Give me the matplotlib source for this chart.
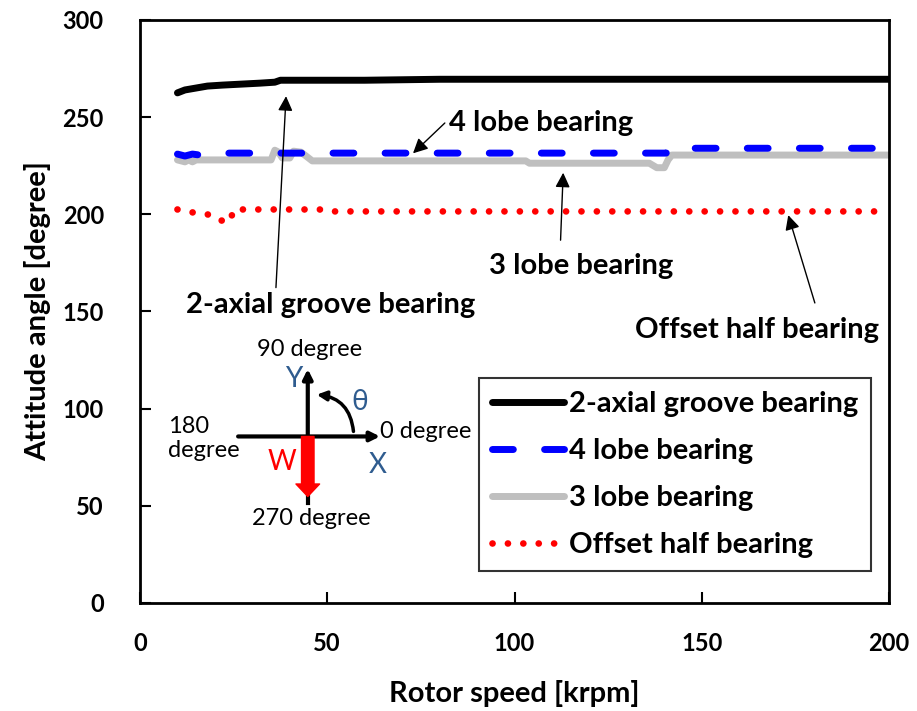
import numpy as np
import matplotlib
matplotlib.use('Agg')
import matplotlib.pyplot as plt
from matplotlib.patches import FancyArrowPatch

plt.rcParams['font.family'] = ['Lato', 'DejaVu Sans']

# ---- data (rotor speed [krpm] / attitude angle [degree])
x_2axial = [10, 12, 15, 18, 22, 27, 32, 36, 37.5, 45, 60, 80, 100, 150, 200]
y_2axial = [262.5, 264, 265, 266, 266.5, 267, 267.5, 268, 269, 269, 269, 269.5, 269.5, 269.5, 269.5]

x_4lobe = [10, 12, 14, 16, 20, 40, 80, 120, 140.5, 141.5, 160, 200]
y_4lobe = [231, 230, 231, 230.5, 231.5, 231.5, 231.5, 231.5, 231.5, 234, 234, 234]

x_3lobe = [10, 12, 13, 14, 15, 16, 20, 30, 35, 36, 37, 38, 40, 41, 43, 45, 46,
           100, 103, 104, 136, 138, 140, 141, 142, 200]
y_3lobe = [228, 227, 228, 227, 228, 228, 228, 228, 228, 233, 232, 229, 229, 232.5, 232, 229, 227.5,
           227.5, 227.5, 226.3, 226.3, 224, 224, 228, 230.5, 230.5]

x_offset = [10, 14, 18, 20, 21, 23, 24, 25, 30, 40, 48, 50, 80, 100, 150, 200]
y_offset = [202.5, 201, 200, 198.5, 197, 196.5, 196, 202.5, 202.5, 202.5, 202.5, 201.5, 201.5, 201.5,
            201.5, 201.5]

labels = ['2-axial groove bearing', '4 lobe bearing', '3 lobe bearing', 'Offset half bearing']

FS = 21

fig = plt.figure(figsize=(9.17, 7.11), dpi=100)
ax = fig.add_axes([140/917, 108/711, 749/917, 583/711])

ax.plot(x_2axial, y_2axial, color='black', lw=5, solid_capstyle='round', label=labels[0])
ax.plot(x_4lobe, y_4lobe, color='#0000FF', lw=5, dashes=(3.0, 4.5), dash_capstyle='round', label=labels[1])
ax.plot(x_3lobe, y_3lobe, color='#BFBFBF', lw=5, solid_capstyle='round', label=labels[2], zorder=1.9)
ax.plot(x_offset, y_offset, color='#FF0000', lw=4.8, dashes=(0.01, 2.3), dash_capstyle='round',
        label=labels[3])

ax.set_xlim(0, 200)
ax.set_ylim(0, 300)
ax.set_xticks([0, 50, 100, 150, 200])
ax.set_yticks([0, 50, 100, 150, 200, 250, 300])
ax.tick_params(direction='in', length=8, width=1.5, labelsize=17)
ax.tick_params(axis='x', pad=21)
ax.tick_params(axis='y', pad=26)
for t in ax.get_xticklabels() + ax.get_yticklabels():
    t.set_fontweight('bold')
for s in ax.spines.values():
    s.set_linewidth(2)

ax.set_xlabel('Rotor speed [krpm]', fontsize=FS, fontweight='bold', labelpad=18)
ax.set_ylabel('Attitude angle [degree]', fontsize=FS, fontweight='bold', labelpad=8)

leg = ax.legend(loc='lower left', bbox_to_anchor=(0.4526, 0.055), fontsize=FS, frameon=True,
                fancybox=False, edgecolor='black', handlelength=2.45, handletextpad=0.17,
                labelspacing=0.72, borderpad=0.45, borderaxespad=0)
leg.get_frame().set_linewidth(1.5)
for t in leg.get_texts():
    t.set_fontweight('bold')

# ---- callouts
ap = dict(arrowstyle='-|>', color='black', lw=1, mutation_scale=22, shrinkA=0, shrinkB=0)
ax.annotate('', xy=(72.9, 231.4), xytext=(81.4, 247), arrowprops=ap)
ax.text(82.5, 247, '4 lobe bearing', fontsize=FS, fontweight='bold', ha='left', va='center')
ax.annotate('', xy=(39.0, 260.8), xytext=(36.3, 162.3), arrowprops=ap)
ax.text(51, 153.5, '2-axial groove bearing', fontsize=FS, fontweight='bold', ha='center', va='center')
ax.annotate('', xy=(113.0, 221.4), xytext=(112.3, 186.7), arrowprops=ap)
ax.text(117.8, 173.6, '3 lobe bearing', fontsize=FS, fontweight='bold', ha='center', va='center')
ax.annotate('', xy=(173.1, 199.6), xytext=(180.2, 154.4), arrowprops=ap)
ax.text(164.8, 140.6, 'Offset half bearing', fontsize=FS, fontweight='bold', ha='center', va='center')

# ---- coordinate sketch
blue = '#2F5C8F'
axp = dict(arrowstyle='-|>', color='black', lw=3, mutation_scale=14, shrinkA=0, shrinkB=0)
ax.annotate('', xy=(64.1, 85.7), xytext=(26.2, 85.7), arrowprops=axp)
ax.annotate('', xy=(44.8, 120.4), xytext=(44.8, 85.7), arrowprops=axp)
ax.plot([44.8, 44.8], [60, 51.5], color='black', lw=3)
ax.annotate('', xy=(44.8, 54.8), xytext=(44.8, 85.7),
            arrowprops=dict(arrowstyle='simple,tail_width=0.45,head_width=0.85,head_length=0.45',
                            color='red', mutation_scale=20, shrinkA=0, shrinkB=0))
arc = FancyArrowPatch((57.0, 88.3), (47.2, 107.2), connectionstyle='arc3,rad=0.4',
                      arrowstyle='-|>', color='black', lw=2.5, mutation_scale=14, shrinkA=0, shrinkB=0)
ax.add_patch(arc)
ax.text(45.2, 130.3, '90 degree', fontsize=17, ha='center', va='center')
ax.text(45.8, 43.6, '270 degree', fontsize=17, ha='center', va='center')
ax.text(64.1, 88.3, '0 degree', fontsize=17, ha='left', va='center')
ax.text(7.6, 84.5, '180\ndegree', fontsize=17, ha='left', va='center', linespacing=1.2)
ax.text(41.0, 115.5, 'Y', fontsize=20, ha='center', va='center', color=blue)
ax.text(58.7, 103.2, 'θ', fontsize=20, ha='center', va='center', color=blue)
ax.text(63.6, 71.1, 'X', fontsize=20, ha='center', va='center', color=blue)
ax.text(37.8, 72.8, 'W', fontsize=20, ha='center', va='center', color='red')

fig.savefig('out.png', dpi=100)
